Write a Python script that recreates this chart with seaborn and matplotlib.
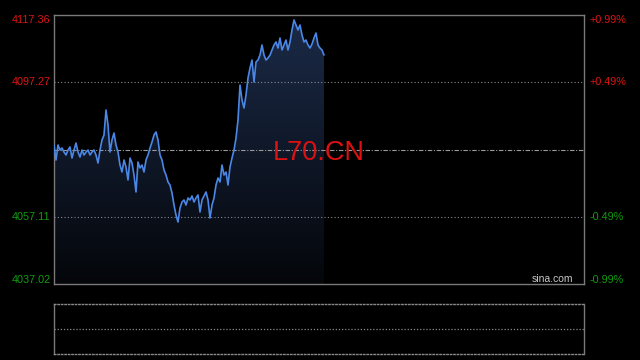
import numpy as np
import pandas as pd
import matplotlib
matplotlib.use("Agg")
import matplotlib.pyplot as plt
import seaborn as sns
from matplotlib.colors import LinearSegmentedColormap
from matplotlib.patches import Polygon

# ---- data ----
prices = [
    4078.53, 4074.05, 4078.53, 4077.04, 4077.64, 4076.44, 4075.55, 4077.04, 4077.94, 4074.65,
    4077.04, 4079.13, 4076.44, 4074.95, 4077.04, 4075.55, 4076.44, 4077.04, 4075.55, 4076.44,
    4077.04, 4075.55, 4073.16, 4077.04, 4080.03, 4081.52, 4088.99, 4084.51, 4076.44, 4080.03,
    4082.12, 4078.53, 4076.44, 4072.56, 4070.47, 4074.05, 4071.96, 4068.08, 4074.65, 4073.16,
    4069.57, 4064.50, 4073.46, 4071.67, 4072.56, 4070.47, 4074.05, 4075.55, 4077.64, 4079.43,
    4081.52, 4082.42, 4080.03, 4075.55, 4074.05, 4071.07, 4069.57, 4067.48, 4066.59, 4064.20,
    4060.61, 4057.63, 4055.54, 4059.72, 4061.51, 4062.11, 4060.61, 4062.71, 4062.11, 4063.30,
    4061.51, 4062.71, 4063.60, 4058.52, 4062.11, 4063.30, 4064.50, 4062.11, 4056.73, 4060.61,
    4062.71, 4066.59, 4068.68, 4067.48, 4072.56, 4069.57, 4070.47, 4066.59, 4071.96, 4074.65,
    4077.04, 4080.62, 4086.00, 4096.45, 4091.97, 4089.58, 4093.47, 4098.54, 4101.53, 4103.92,
    4097.35, 4103.32, 4103.92, 4105.41, 4108.40, 4105.41, 4103.92, 4104.52, 4105.41, 4106.91,
    4108.40, 4109.30, 4107.50, 4110.49, 4106.91, 4108.40, 4109.89, 4106.91, 4109.30, 4112.88,
    4115.87, 4114.37, 4112.88, 4114.37, 4111.39, 4109.30, 4109.89, 4108.40, 4107.50, 4108.70,
    4110.49, 4111.98, 4108.40, 4107.50, 4106.91, 4105.41,
]
prev_close = 4077.19
left_labels = ["4117.36", "4097.27", "4057.11", "4037.02"]
left_values = [4117.36, 4097.27, 4057.11, 4037.02]
right_labels = ["+0.99%", "+0.49%", "-0.49%", "-0.99%"]
symbol = "L70.CN"
watermark = "sina.com"
total_slots = 265

RED = "#dc1414"
GREEN = "#129a12"
GRID = "#8a8a8a"
SPINE = "#7a7a7a"

sns.set_theme(style="dark")
plt.rcParams['font.family'] = ['Liberation Sans', 'DejaVu Sans']

W, H = 640, 360
fig = plt.figure(figsize=(6.4, 3.6), dpi=100, facecolor='black')
ax = fig.add_axes([54 / W, 1 - 284 / H, 530 / W, 269 / H])
ax.set_facecolor('black')

ymin, ymax = left_values[-1], left_values[0]
ax.set_xlim(0, total_slots)
ax.set_ylim(ymin, ymax)

df = pd.DataFrame({'t': np.arange(len(prices)), 'price': prices})

# gradient fill below line
cmap = LinearSegmentedColormap.from_list('g', ['#04060a', '#1b2a47'])
grad = np.linspace(1, 0, 256).reshape(-1, 1)
im = ax.imshow(grad, extent=[0, len(prices) - 1, ymin, max(prices)], aspect='auto',
               cmap=cmap, origin='upper', zorder=1, interpolation='bilinear')
verts = list(zip(df['t'], df['price'])) + [(len(prices) - 1, ymin), (0, ymin)]
poly = Polygon(verts, closed=True, facecolor='none', edgecolor='none', transform=ax.transData)
ax.add_patch(poly)
im.set_clip_path(poly)

# reference lines
for v in [left_values[1], left_values[2]]:
    ax.axhline(v, color=GRID, ls=(0, (1, 2)), lw=0.8, zorder=2)
ax.axhline(prev_close, color='#9a9a9a', ls=(0, (4, 1.5, 1, 1.5)), lw=0.8, zorder=2)

sns.lineplot(data=df, x='t', y='price', color='#4b87e6', linewidth=1.2, ax=ax, zorder=3)

ax.set_xticks([])
ax.set_yticks([])
ax.set_xlabel('')
ax.set_ylabel('')
for s in ax.spines.values():
    s.set_color(SPINE)
    s.set_linewidth(1.0)
    s.set_visible(True)

ytr = ax.get_yaxis_transform()
fs = 7.8
ax.text(-0.006, ymax, left_labels[0], color=RED, fontsize=fs, ha='right', va='top', transform=ytr)
ax.text(-0.006, left_values[1], left_labels[1], color=RED, fontsize=fs, ha='right', va='center', transform=ytr)
ax.text(-0.006, left_values[2], left_labels[2], color=GREEN, fontsize=fs, ha='right', va='center', transform=ytr)
ax.text(-0.006, ymin + 0.4, left_labels[3], color=GREEN, fontsize=fs, ha='right', va='baseline', transform=ytr)

ax.text(1.011, ymax, right_labels[0], color=RED, fontsize=fs, ha='left', va='top', transform=ytr)
ax.text(1.011, left_values[1], right_labels[1], color=RED, fontsize=fs, ha='left', va='center', transform=ytr)
ax.text(1.011, left_values[2], right_labels[2], color=GREEN, fontsize=fs, ha='left', va='center', transform=ytr)
ax.text(1.011, ymin + 0.4, right_labels[3], color=GREEN, fontsize=fs, ha='left', va='baseline', transform=ytr)

ax.text(0.5, prev_close - 3.0, symbol, color='#dd1111', fontsize=19.5, ha='center', va='baseline',
        transform=ytr, zorder=4)
ax.text(0.979, ymin + 0.6, watermark, color='#c8c8c8', fontsize=7.5, ha='right', va='baseline',
        transform=ytr, zorder=4)

# lower (volume) panel
ax2 = fig.add_axes([54 / W, 1 - 354 / H, 530 / W, 50 / H])
ax2.set_facecolor('black')
ax2.set_xlim(0, total_slots)
ax2.set_ylim(0, 1)
ax2.set_xticks([])
ax2.set_yticks([])
ax2.axhline(0.5, color=GRID, ls=(0, (1, 1.5)), lw=0.9)
for k, s in ax2.spines.items():
    s.set_color(SPINE)
    s.set_linewidth(1.0)
    s.set_visible(True)
    if k in ('top', 'bottom'):
        s.set_linestyle((0, (1, 1.5)))
        s.set_color(GRID)

fig.savefig('out.png', dpi=100, facecolor='black')
